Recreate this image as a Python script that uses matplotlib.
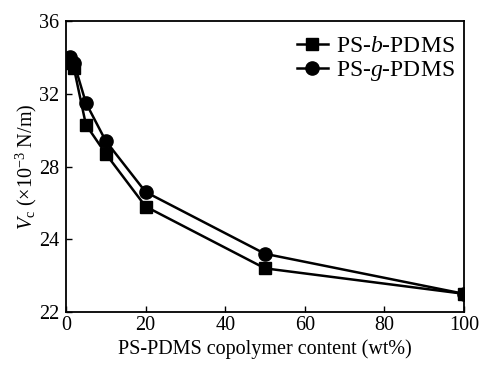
import matplotlib
matplotlib.use('Agg')
import matplotlib.pyplot as plt

plt.rcParams['font.family'] = ['Liberation Serif', 'DejaVu Serif']
plt.rcParams['mathtext.fontset'] = 'custom'
plt.rcParams['mathtext.rm'] = 'Liberation Serif'
plt.rcParams['mathtext.it'] = 'Liberation Serif:italic'

# data
content = [1, 2, 5, 10, 20, 50, 100]
ps_b_pdms = [33.7, 33.4, 30.3, 28.7, 25.8, 22.4, 21.0]
ps_g_pdms = [34.0, 33.7, 31.5, 29.4, 26.6, 23.2, 21.0]

x_ticks = [0, 20, 40, 60, 80, 100]
y_ticks = [20, 24, 28, 32, 36]
y_tick_labels = ['22', '24', '28', '32', '36']  # bottom label printed as 22 in the original

fig = plt.figure(figsize=(4.82, 3.65), dpi=100)
ax = fig.add_axes([66 / 482, 1 - 312 / 365, (464 - 66) / 482, (312 - 21) / 365])

ax.plot(content, ps_b_pdms, color='black', lw=1.8, marker='s', ms=8.5,
        label='PS-$\\it{b}$-PDMS')
ax.plot(content, ps_g_pdms, color='black', lw=1.8, marker='o', ms=9.5,
        label='PS-$\\it{g}$-PDMS')

ax.set_xlim(0, 100)
ax.set_ylim(20, 36)
ax.set_xticks(x_ticks)
ax.set_yticks(y_ticks)
ax.set_yticklabels(y_tick_labels)
ax.tick_params(direction='in', length=4, width=1, labelsize=14.5)
ax.tick_params(axis='y', pad=5)
ax.tick_params(axis='x', pad=3)

for s in ax.spines.values():
    s.set_linewidth(1.3)

ax.set_xlabel('PS-PDMS copolymer content (wt%)', fontsize=14.5, labelpad=3)
ax.set_ylabel('$V_{\\rm c}$ (×10$^{-3}$ N/m)', fontsize=14.5, labelpad=0)

leg = ax.legend(loc='upper right', frameon=False, fontsize=17, handlelength=1.3,
                handletextpad=0.35, labelspacing=0.1, borderaxespad=0.0,
                borderpad=0.0, bbox_to_anchor=(0.977, 0.95))

fig.savefig('out.png', dpi=100)
